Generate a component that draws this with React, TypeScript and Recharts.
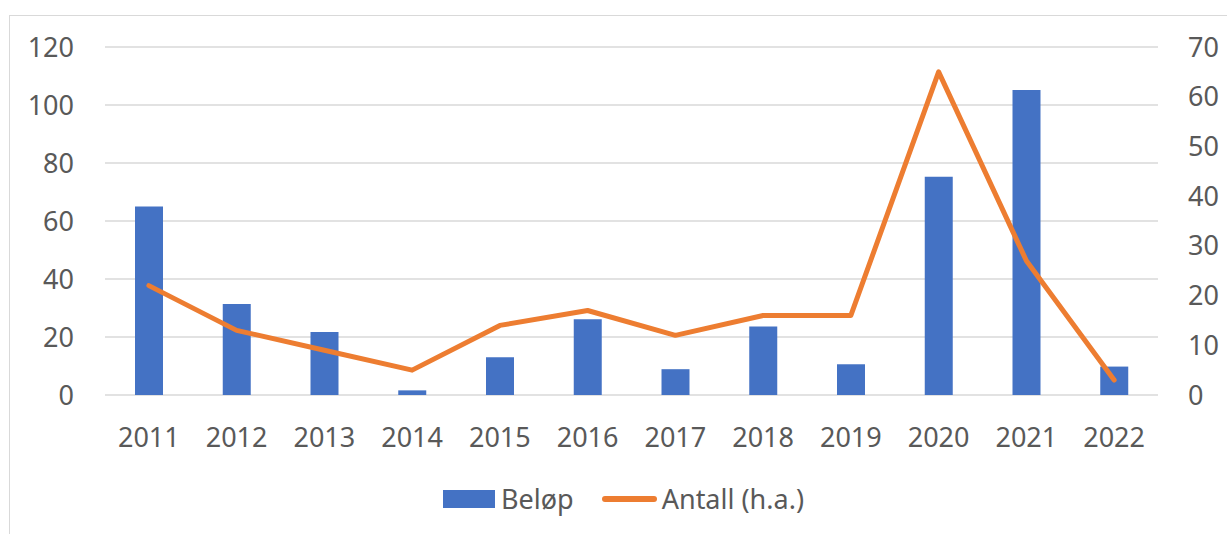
import { ComposedChart, Bar, Line, XAxis, YAxis, CartesianGrid, Legend } from 'recharts';

const years = ['2011', '2012', '2013', '2014', '2015', '2016', '2017', '2018', '2019', '2020', '2021', '2022'];
const belop = [65, 31.4, 21.7, 1.6, 13, 26.1, 8.9, 23.6, 10.6, 75.3, 105.2, 9.8];
const antall = [22, 13, 9, 5, 14, 17, 12, 16, 16, 65, 27, 3];
const leftTicks = [0, 20, 40, 60, 80, 100, 120];
const rightTicks = [0, 10, 20, 30, 40, 50, 60, 70];
const legendOrder = ['Beløp', 'Antall (h.a.)'];

const data = years.map((year, i) => ({ year, belop: belop[i], antall: antall[i] }));

const FONT = '"Noto Sans", "Open Sans", sans-serif';
const TEXT = '#595959';
const BLUE = '#4472C4';
const ORANGE = '#ED7D31';

const LegendContent = (props: any) => {
    const payload = [...(props.payload || [])].sort(
        (a: any, b: any) => legendOrder.indexOf(a.value) - legendOrder.indexOf(b.value)
    );
    return (
        <div style={{ height: 50, display: 'flex', alignItems: 'flex-start', paddingLeft: 443, paddingTop: 6, boxSizing: 'border-box', fontFamily: FONT, fontSize: 27, color: TEXT }}>
            {payload.map((entry: any) => (
                <div key={entry.value} style={{ display: 'flex', alignItems: 'center', marginRight: 28, height: 18 }}>
                    {entry.type === 'line' ? (
                        <div style={{ width: 55, height: 6, borderRadius: 3, background: entry.color, marginRight: 5 }} />
                    ) : (
                        <div style={{ width: 52, height: 18, background: entry.color, marginRight: 6 }} />
                    )}
                    <span style={{ lineHeight: '18px' }}>{entry.value}</span>
                </div>
            ))}
        </div>
    );
};

export default function App() {
    return (
        <div style={{ position: 'absolute', left: 0, top: 0, width: 1227, height: 534, background: '#fff', overflow: 'hidden' }}>
            <div style={{ position: 'absolute', left: 9, top: 15, width: 1300, height: 600, borderLeft: '1.5px solid #d9d9d9', borderTop: '1.5px solid #d9d9d9' }} />
            <ComposedChart width={1227} height={534} data={data} margin={{ top: 47, right: 0, bottom: 0, left: 0 }} style={{ position: 'absolute', left: 0, top: 0 }}>
                <CartesianGrid yAxisId="left" vertical={false} stroke="#d9d9d9" strokeWidth={1.5} />
                <XAxis
                    dataKey="year"
                    height={89}
                    axisLine={false}
                    tickLine={false}
                    tickSize={0}
                    tickMargin={33}
                    tick={{ fill: TEXT, fontSize: 27, fontFamily: FONT }}
                />
                <YAxis
                    yAxisId="left"
                    width={105}
                    domain={[0, 120]}
                    ticks={leftTicks}
                    axisLine={false}
                    tickLine={false}
                    tickSize={0}
                    tickMargin={31}
                    tick={{ fill: TEXT, fontSize: 27, fontFamily: FONT }}
                />
                <YAxis
                    yAxisId="right"
                    orientation="right"
                    width={69}
                    domain={[0, 70]}
                    ticks={rightTicks}
                    axisLine={false}
                    tickLine={false}
                    tickSize={0}
                    tickMargin={30}
                    tick={{ fill: TEXT, fontSize: 27, fontFamily: FONT, textAnchor: 'start' }}
                />
                <Legend verticalAlign="bottom" content={<LegendContent />} />
                <Bar yAxisId="left" dataKey="belop" name="Beløp" fill={BLUE} barSize={28} isAnimationActive={false} legendType="rect" />
                <Line
                    yAxisId="right"
                    dataKey="antall"
                    name="Antall (h.a.)"
                    type="linear"
                    stroke={ORANGE}
                    strokeWidth={5}
                    strokeLinecap="round"
                    strokeLinejoin="round"
                    dot={false}
                    activeDot={false}
                    isAnimationActive={false}
                    legendType="line"
                />
            </ComposedChart>
        </div>
    );
}
